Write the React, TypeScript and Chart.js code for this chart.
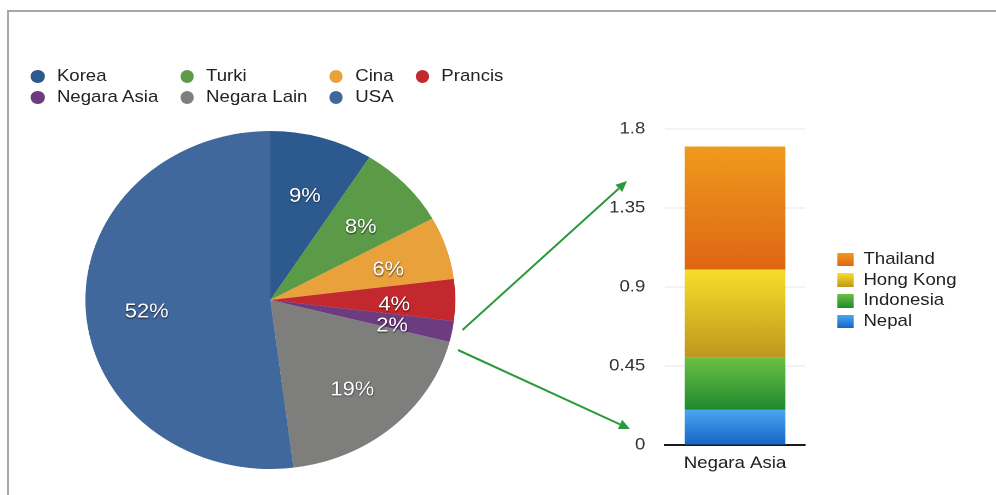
import React, { useEffect, useRef } from 'react';
import { Chart, registerables } from 'chart.js';

Chart.register(...registerables);

// ---------- data ----------
const pieLabels = ['Korea', 'Turki', 'Cina', 'Prancis', 'Negara Asia', 'Negara Lain', 'USA'];
const pieValues = [9, 8, 6, 4, 2, 19, 52];
const pieColors = ['#2c5a8f', '#5b9b48', '#e9a23b', '#c2282e', '#6d3b80', '#7e7f7d', '#41689c'];

const barCategories = ['Negara Asia'];
const barSeriesNames = ['Nepal', 'Indonesia', 'Hong Kong', 'Thailand'];
const nepalValues = [0.2];
const indonesiaValues = [0.3];
const hongKongValues = [0.5];
const thailandValues = [0.7];
const barSeriesValues = [nepalValues, indonesiaValues, hongKongValues, thailandValues];
const barTopColors = ['#4aa6f2', '#6cc043', '#f7df2a', '#f09a1d'];
const barBottomColors = ['#1565c6', '#1e8a2e', '#bf961f', '#de6614'];
const yTickValues = [0, 0.45, 0.9, 1.35, 1.8];

// ---------- style ----------
const FONT = '"Liberation Sans", Arial, Helvetica, sans-serif';
const SX = 1.0945; // horizontal stretch of the original picture

const pieLabelPlugin = {
  id: 'pieLabels',
  afterDatasetsDraw(chart: any) {
    const ctx = chart.ctx;
    const meta = chart.getDatasetMeta(0);
    ctx.save();
    ctx.font = `20px ${FONT}`;
    ctx.fillStyle = '#ffffff';
    ctx.textAlign = 'center';
    ctx.textBaseline = 'middle';
    ctx.shadowColor = 'rgba(0,0,0,0.7)';
    ctx.shadowBlur = 3;
    ctx.shadowOffsetX = 0.5;
    ctx.shadowOffsetY = 1.5;
    meta.data.forEach((arc: any, i: number) => {
      const p = arc.getProps(['x', 'y', 'startAngle', 'endAngle', 'outerRadius'], true);
      const mid = (p.startAngle + p.endAngle) / 2;
      const r = p.outerRadius * 0.67;
      ctx.fillText(`${pieValues[i]}%`, p.x + Math.cos(mid) * r, p.y + Math.sin(mid) * r + 5);
    });
    ctx.restore();
  },
};

function arrowPath(x1: number, y1: number, x2: number, y2: number) {
  const dx = x2 - x1;
  const dy = y2 - y1;
  const len = Math.hypot(dx, dy);
  const ux = dx / len;
  const uy = dy / len;
  const hl = 11;
  const hw = 5;
  const bx = x2 - ux * hl;
  const by = y2 - uy * hl;
  return {
    line: { x1, y1, x2: bx, y2: by },
    head: `${x2},${y2} ${bx - uy * hw},${by + ux * hw} ${bx + uy * hw},${by - ux * hw}`,
  };
}

export default function App() {
  const pieRef = useRef<HTMLCanvasElement>(null);
  const barRef = useRef<HTMLCanvasElement>(null);

  useEffect(() => {
    document.body.style.margin = '0';
    Chart.defaults.font.family = FONT;

    const pie = new Chart(pieRef.current as HTMLCanvasElement, {
      type: 'pie',
      data: {
        labels: pieLabels,
        datasets: [{ data: pieValues, backgroundColor: pieColors, borderWidth: 0 }],
      },
      options: {
        responsive: false,
        animation: false,
        devicePixelRatio: 2,
        events: [],
        layout: { padding: 0 },
        plugins: { legend: { display: false }, tooltip: { enabled: false } },
      },
      plugins: [pieLabelPlugin],
    } as any);

    const bar = new Chart(barRef.current as HTMLCanvasElement, {
      type: 'bar',
      data: {
        labels: barCategories,
        datasets: barSeriesNames.map((name, i) => ({
          label: name,
          data: barSeriesValues[i],
          borderWidth: 0,
          categoryPercentage: 1,
          barPercentage: 0.72,
          backgroundColor: (c: any) => {
            const chart = c.chart;
            const ys = chart.scales && chart.scales.y;
            const di = c.dataIndex;
            if (!ys || di === undefined || !chart.chartArea) return barTopColors[i];
            let start = 0;
            for (let j = 0; j < i; j++) start += barSeriesValues[j][di];
            const end = start + barSeriesValues[i][di];
            const g = chart.ctx.createLinearGradient(0, ys.getPixelForValue(end), 0, ys.getPixelForValue(start));
            g.addColorStop(0, barTopColors[i]);
            g.addColorStop(1, barBottomColors[i]);
            return g;
          },
        })),
      },
      options: {
        responsive: false,
        animation: false,
        devicePixelRatio: 2,
        events: [],
        layout: { padding: { top: 29, bottom: 9, left: 0, right: 14.5 } },
        scales: {
          x: {
            stacked: true,
            grid: { display: false, drawTicks: false },
            border: { display: true, color: '#1a1a1a', width: 2 },
            ticks: { padding: 8, color: '#222', font: { size: 17, family: FONT } },
            afterFit: (s: any) => {
              s.height = 36;
            },
          },
          y: {
            stacked: true,
            min: 0,
            max: 1.8,
            afterBuildTicks: (s: any) => {
              s.ticks = yTickValues.map((v) => ({ value: v }));
            },
            ticks: {
              padding: 18,
              color: '#333',
              font: { size: 17, family: FONT },
              callback: (v: any) => String(v),
            },
            grid: {
              drawTicks: false,
              lineWidth: 1,
              color: (c: any) => (c.tick && c.tick.value === 0 ? 'rgba(0,0,0,0)' : '#e6e6e6'),
            },
            border: { display: false },
            afterFit: (s: any) => {
              s.width = 87.6;
            },
          },
        },
        plugins: {
          tooltip: { enabled: false },
          legend: { display: false },
        },
      },
    } as any);

    return () => {
      pie.destroy();
      bar.destroy();
    };
  }, []);

  const a1 = arrowPath(462.5, 330, 627, 181);
  const a2 = arrowPath(458, 350, 630, 429);
  const green = '#2b9a3a';
  const barLegendOrder = barSeriesNames.map((_, i) => i).reverse();

  return (
    <div
      style={{
        position: 'fixed',
        left: 0,
        top: 0,
        width: 996,
        height: 495,
        overflow: 'hidden',
        background: '#ffffff',
      }}
    >
      <div
        style={{
          position: 'absolute',
          left: 7,
          top: 10,
          width: 1000,
          height: 500,
          borderTop: '2px solid #a8a8a8',
          borderLeft: '2px solid #a8a8a8',
          boxSizing: 'border-box',
        }}
      />
      <div
        style={{
          position: 'absolute',
          left: 0,
          top: 0,
          width: 910,
          height: 495,
          transform: `scaleX(${SX})`,
          transformOrigin: '0 0',
        }}
      >
        <div
          style={{
            position: 'absolute',
            left: 28.3,
            top: 66.4,
            display: 'grid',
            gridTemplateColumns: 'repeat(4, auto)',
            columnGap: 20,
            font: `17px ${FONT}`,
            lineHeight: '20.6px',
            color: '#222',
          }}
        >
          {pieLabels.map((label, i) => (
            <div key={label} style={{ display: 'flex', alignItems: 'center', whiteSpace: 'nowrap' }}>
              <span
                style={{
                  width: 12.5,
                  height: 12.5,
                  borderRadius: '50%',
                  background: pieColors[i],
                  marginRight: 11.2,
                  flex: 'none',
                  display: 'inline-block',
                }}
              />
              {label}
            </div>
          ))}
        </div>
        <canvas
          ref={pieRef}
          width={338}
          height={338}
          style={{ position: 'absolute', left: 77.7, top: 131 }}
        />
        <canvas
          ref={barRef}
          width={230}
          height={390}
          style={{ position: 'absolute', left: 520, top: 100 }}
        />
        <div
          style={{
            position: 'absolute',
            left: 765.4,
            top: 248.9,
            font: `17px ${FONT}`,
            lineHeight: '20.8px',
            color: '#222',
          }}
        >
          {barLegendOrder.map((i) => (
            <div key={barSeriesNames[i]} style={{ display: 'flex', alignItems: 'center', whiteSpace: 'nowrap' }}>
              <span
                style={{
                  width: 14.3,
                  height: 13.3,
                  background: `linear-gradient(${barTopColors[i]}, ${barBottomColors[i]})`,
                  marginRight: 9.2,
                  flex: 'none',
                  display: 'inline-block',
                }}
              />
              {barSeriesNames[i]}
            </div>
          ))}
        </div>
      </div>
      <svg
        width={996}
        height={495}
        style={{ position: 'absolute', left: 0, top: 0, pointerEvents: 'none' }}
      >
        {[a1, a2].map((a, i) => (
          <g key={i}>
            <line {...a.line} stroke={green} strokeWidth={2} />
            <polygon points={a.head} fill={green} />
          </g>
        ))}
      </svg>
    </div>
  );
}
